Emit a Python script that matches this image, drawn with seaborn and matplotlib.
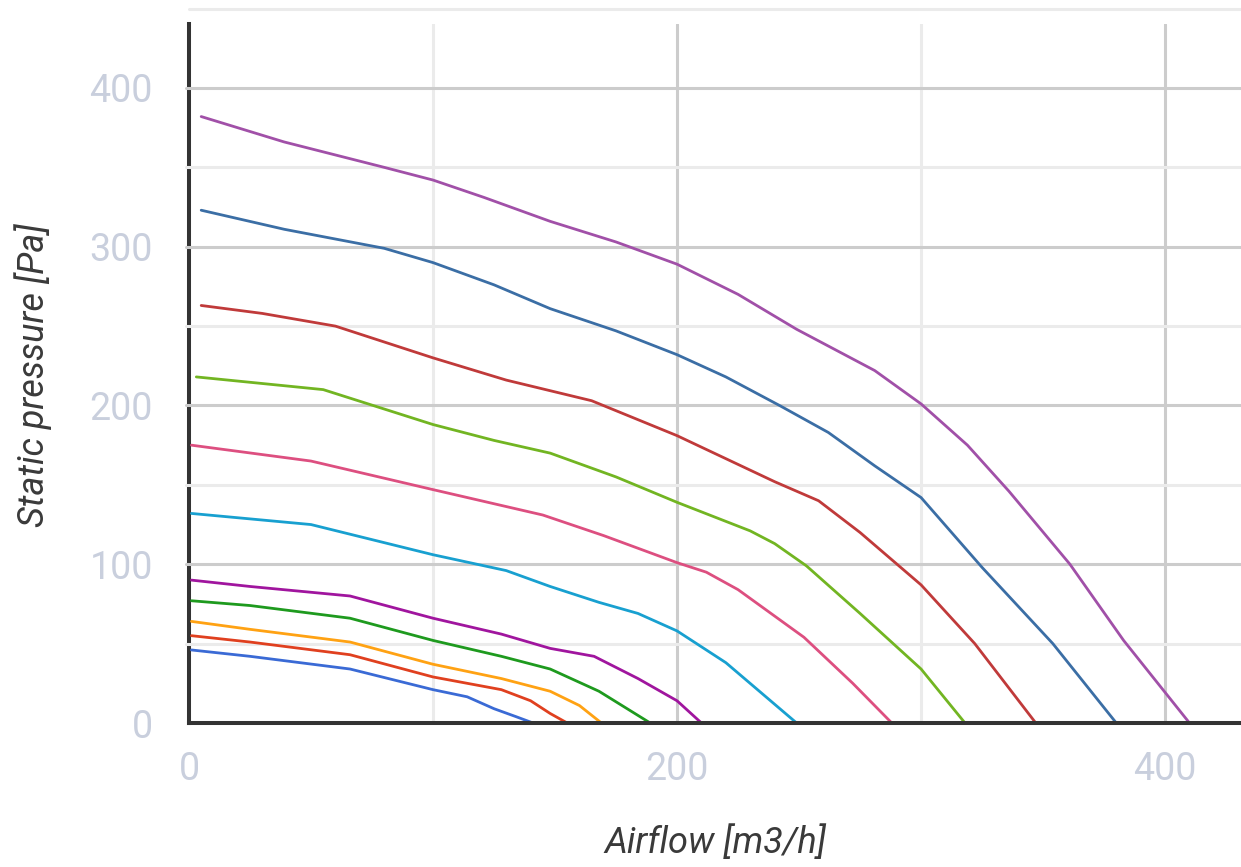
import matplotlib
matplotlib.use("Agg")
import matplotlib.pyplot as plt
import seaborn as sns
import pandas as pd

# ---- data (airflow m3/h, static pressure Pa) ----
c1_x = [5, 39, 80, 100, 121, 148, 175, 200, 225, 249, 265, 281, 300, 319, 336, 361, 383, 410]
c1_y = [382, 366, 350, 342, 331, 316, 303, 289, 270, 248, 235, 222, 201, 175, 146, 100, 52, 0]

c2_x = [5, 39, 80, 100, 125, 148, 175, 200, 220, 242, 262, 281, 300, 325, 354, 380]
c2_y = [323, 311, 299, 290, 276, 261, 247, 232, 218, 200, 183, 162, 142, 98, 50, 0]

c3_x = [5, 30, 60, 100, 130, 165, 200, 240, 258, 275, 300, 322, 347]
c3_y = [263, 258, 250, 230, 216, 203, 181, 152, 140, 120, 87, 50, 0]

c4_x = [3, 55, 100, 125, 148, 175, 200, 230, 240, 253, 275, 300, 318]
c4_y = [218, 210, 188, 178, 170, 155, 139, 121, 113, 99, 69, 34, 0]

c5_x = [1, 50, 100, 145, 170, 200, 212, 225, 252, 272, 288]
c5_y = [175, 165, 147, 131, 118, 101, 95, 84, 54, 25, 0]

c6_x = [1, 50, 100, 130, 148, 168, 184, 200, 220, 249]
c6_y = [132, 125, 106, 96, 86, 76, 69, 58, 38, 0]

c7_x = [1, 25, 66, 100, 128, 148, 166, 184, 200, 210]
c7_y = [90, 86, 80, 66, 56, 47, 42, 28, 14, 0]

c8_x = [1, 25, 66, 100, 128, 148, 168, 189]
c8_y = [77, 74, 66, 52, 42, 34, 20, 0]

c9_x = [1, 25, 66, 100, 128, 148, 160, 169]
c9_y = [64, 59, 51, 37, 28, 20, 11, 0]

c10_x = [1, 25, 66, 100, 128, 140, 148, 155]
c10_y = [55, 51, 43, 29, 21, 14, 6, 0]

c11_x = [1, 25, 66, 100, 114, 125, 134, 141]
c11_y = [46, 42, 34, 21, 16.5, 9, 4, 0]

curve_names = ["c1", "c2", "c3", "c4", "c5", "c6", "c7", "c8", "c9", "c10", "c11"]
curve_xs = [c1_x, c2_x, c3_x, c4_x, c5_x, c6_x, c7_x, c8_x, c9_x, c10_x, c11_x]
curve_ys = [c1_y, c2_y, c3_y, c4_y, c5_y, c6_y, c7_y, c8_y, c9_y, c10_y, c11_y]
curve_colors = ["#a150a8", "#3b6ea5", "#c03a3a", "#72b522", "#dd4f80", "#18a0d0",
                "#a0159e", "#1e9a1e", "#ffa213", "#e0401f", "#3a6ad5"]

x_tick_vals = [0, 200, 400]
y_tick_vals = [0, 100, 200, 300, 400]
x_major_grid = [200, 400]
x_minor_grid = [100, 300]
y_major_grid = [100, 200, 300, 400]
y_minor_grid = [50, 150, 250, 350]

rows = []
for name, xs, ys in zip(curve_names, curve_xs, curve_ys):
    for i, (xv, yv) in enumerate(zip(xs, ys)):
        rows.append({"curve": name, "order": i, "airflow": xv, "pressure": yv})
df = pd.DataFrame(rows)

sns.set_theme(style="white")
plt.rcParams['font.family'] = ['Roboto', 'DejaVu Sans']

fig = plt.figure(figsize=(12.41, 8.67), dpi=100)
ax = fig.add_axes([189 / 1241, (867 - 723) / 867, 1052 / 1241, 699 / 867])

sns.lineplot(data=df, x="airflow", y="pressure", hue="curve",
             hue_order=curve_names, palette=dict(zip(curve_names, curve_colors)),
             sort=False, estimator=None, legend=False, linewidth=2.0, ax=ax, zorder=2)

ax.set_xlim(0, 431.1)
ax.set_ylim(0, 440.3)

major_c = "#cccccc"
minor_c = "#ebebeb"
glw = 2.2
for v in x_minor_grid:
    ax.axvline(v, color=minor_c, lw=glw, zorder=0.5)
for v in x_major_grid:
    ax.axvline(v, color=major_c, lw=glw, zorder=0.5)
for v in y_minor_grid:
    ax.axhline(v, xmin=-0.003, color=minor_c, lw=glw, zorder=0.5, clip_on=False)
for v in y_major_grid:
    ax.axhline(v, xmin=-0.003, color=major_c, lw=glw, zorder=0.5, clip_on=False)
# faint top rule above the plot area
ax.axhline(450, color=minor_c, lw=glw, zorder=0.5, clip_on=False)

ax.set_xticks(x_tick_vals)
ax.set_yticks(y_tick_vals)
ax.tick_params(axis="both", length=0, labelsize=27, labelcolor="#c9cfdd")
ax.tick_params(axis="x", pad=20)
ax.tick_params(axis="y", pad=26)

for s in ["top", "right"]:
    ax.spines[s].set_visible(False)
ax.spines["left"].set_color("#333333")
ax.spines["left"].set_linewidth(2.9)
ax.spines["left"].set_zorder(0.2)
ax.spines["bottom"].set_color("#333333")
ax.spines["bottom"].set_linewidth(2.9)
ax.spines["bottom"].set_zorder(2.6)

ax.set_xlabel("Airflow [m3/h]", fontsize=26, style="italic", color="#3a3a3a")
ax.set_ylabel("Static pressure [Pa]", fontsize=26, style="italic", color="#3a3a3a")
ax.xaxis.label.set_va("center")
ax.yaxis.label.set_va("center")
ax.xaxis.set_label_coords(0.5, (723 - 843) / 699)
ax.yaxis.set_label_coords((33 - 189) / 1052, 0.498)

fig.savefig("out.png", dpi=100)
